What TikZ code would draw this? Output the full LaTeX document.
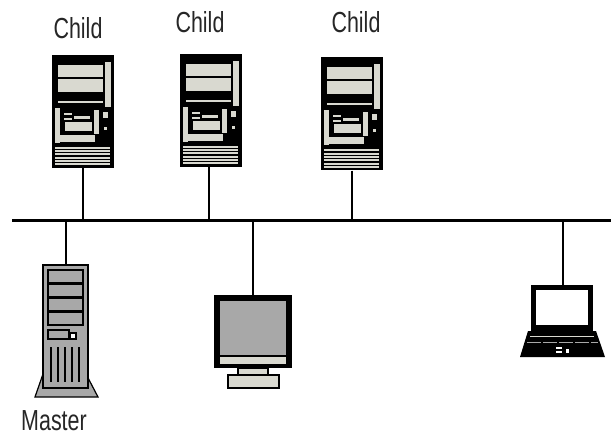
\documentclass[tikz,border=0pt]{standalone}
\usepackage{fontspec}
\newfontfamily\labelfont[FakeStretch=0.74]{Liberation Sans}
\usepackage{xcolor}
\usepackage{tikz}
\usetikzlibrary{arrows.meta,positioning,calc}
\definecolor{pclight}{HTML}{D9D9D0}
\definecolor{pcgray}{HTML}{A8A8A8}

% one desktop unit, drawn from its top left corner
\newcommand{\deskunit}{%
  \fill[black] (0,0) rectangle (62,113);
  \fill[pclight] (6,10) rectangle (51,22);
  \fill[pclight] (6,24) rectangle (51,37);
  \fill[pclight] (53,7) rectangle (59,52);
  \fill[pclight] (6,46) rectangle (51,48);
  \fill[pclight] (3,53) rectangle (8,88);
  \fill[pclight] (3,80) rectangle (43,87);
  \fill[pclight] (13,67) rectangle (40,76);
  \fill[pclight] (12,58) rectangle (20,60);
  \fill[pclight] (12,63) rectangle (20,65);
  \fill[pclight] (22,61) rectangle (38,64);
  \fill[pclight] (42,55) rectangle (47,79);
  \fill[pclight] (51,57) rectangle (56,63);
  \fill[pclight] (52,72) rectangle (55,75);
  \foreach \i in {0,...,5}
    \fill[pclight] (3,92+3.3*\i) rectangle (58,94+3.3*\i);
}

\begin{document}
\begin{tikzpicture}[x=1pt, y=-1pt,
  lbl/.style={font=\labelfont\fontsize{29}{32}\selectfont, text=black!85, inner sep=0pt},
  unitbox/.style={inner sep=0pt, minimum width=62pt, minimum height=113pt},
  bus/.style={line width=3pt},
  stem/.style={line width=2.4pt},
  part/.style={draw=black, line width=1.2pt}]
\useasboundingbox (0,0) rectangle (611,437);

\coordinate (busL) at (12,220);
\coordinate (busR) at (611,220);

\node[unitbox] (child1) at (83,111.5) {};
\node[unitbox] (child2) at (211,110.5) {};
\node[unitbox] (child3) at (352,114) {};
\node[inner sep=0pt, minimum width=43pt, minimum height=132pt] (master) at (66,331) {};
\node[inner sep=0pt, minimum width=78pt, minimum height=93pt] (screen) at (253,341.5) {};
\node[inner sep=0pt, minimum width=85pt, minimum height=72pt] (laptop) at (563,321) {};

\node[lbl] (lbl1) at (78,28) {Child};
\node[lbl] (lbl2) at (200,22) {Child};
\node[lbl] (lbl3) at (356,22) {Child};
\node[lbl] (lblm) at (54,421) {Master};

\begin{scope}[shift={(child1.north west)}] \deskunit \end{scope}
\begin{scope}[shift={(child2.north west)}] \deskunit \end{scope}
\begin{scope}[shift={(child3.north west)}] \deskunit \end{scope}

% tower
\filldraw[part, fill=pcgray] (43,374) -- (86,374) -- (98,397) -- (35,397) -- cycle;
\filldraw[part, fill=pcgray] (43,265) rectangle (88,388);
\foreach \y in {270,284,298,312}
  \filldraw[part, fill=pcgray] (48,\y) rectangle (83,\y+13);
\filldraw[part, fill=pcgray] (48,330) rectangle (69,339);
\filldraw[part, fill=white] (70,333) rectangle (76,339);
\foreach \x in {51,58,65,72,79}
  \draw[line width=1.2pt] (\x,347) -- (\x,382);

% monitor
\fill[black] (214,295) rectangle (292,368);
\fill[pcgray] (220,301) rectangle (286,355);
\fill[pclight] (220,357) rectangle (286,364);
\filldraw[part, fill=pclight] (238,368) rectangle (268,375);
\filldraw[part, fill=pclight] (228,375) rectangle (279,388);

% notebook
\fill[black] (531,285) rectangle (593,331);
\fill[white] (536,290) rectangle (588,325);
\fill[black] (528,331) -- (596,331) -- (605,357) -- (520,357) -- cycle;
\draw[pclight, line width=1pt] (530,336) -- (594,336);
\draw[pcgray, line width=1pt, dash pattern=on 14pt off 2pt] (527,342) -- (598,342);
\fill[white] (556,347) rectangle (562,349);
\fill[white] (556,351) rectangle (562,353);
\fill[white] (566,349) rectangle (569,353);

% network
\draw[bus] (busL) -- (busR);
\draw[stem] (child1.south) -- (child1.south |- busL);
\draw[stem] ([xshift=-2pt]child2.south) -- ([xshift=-2pt]child2.south |- busL);
\draw[stem] (child3.south) -- (child3.south |- busL);
\draw[stem] (master.north) -- (master.north |- busL);
\draw[stem] (screen.north) -- (screen.north |- busL);
\draw[stem] (laptop.north) -- (laptop.north |- busL);
\end{tikzpicture}
\end{document}
